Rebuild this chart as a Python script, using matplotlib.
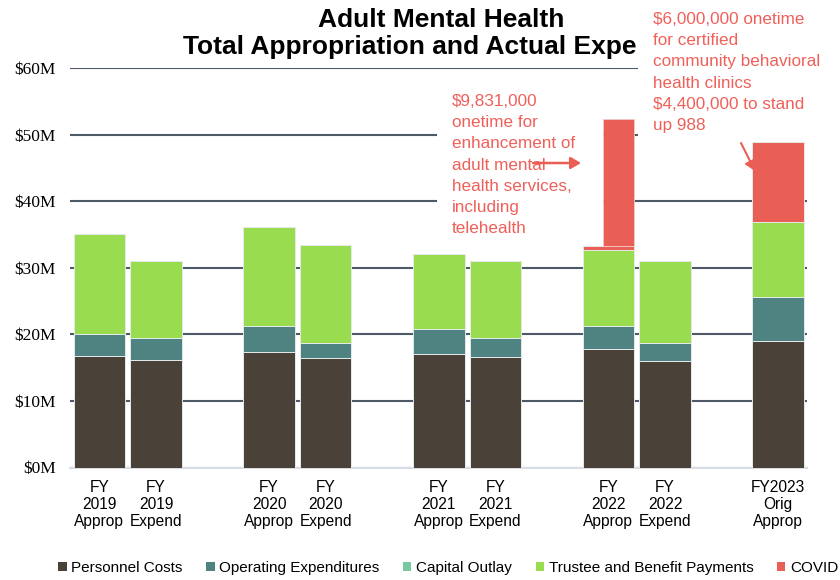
import matplotlib
matplotlib.use("Agg")
import matplotlib.pyplot as plt
from matplotlib.patches import Rectangle, FancyArrowPatch

categories = ["FY\n2019\nApprop", "FY\n2019\nExpend", "FY\n2020\nApprop", "FY\n2020\nExpend",
              "FY\n2021\nApprop", "FY\n2021\nExpend", "FY\n2022\nApprop", "FY\n2022\nExpend",
              "FY2023\nOrig\nApprop"]
personnel = [16.8, 16.2, 17.35, 16.4, 17.1, 16.6, 17.75, 15.95, 18.95]
operating = [3.25, 3.2, 3.85, 2.35, 3.65, 2.8, 3.55, 2.8, 6.65]
capital = [0, 0, 0, 0, 0, 0, 0, 0, 0]
trustee = [14.95, 11.65, 14.9, 14.65, 11.25, 11.65, 11.3, 12.25, 11.2]
covid = [0, 0, 0, 0, 0, 0, 0.6, 0, 12.1]
covid_onetime = [0, 0, 0, 0, 0, 0, 19.1, 0, 0]
yticks = [0, 10, 20, 30, 40, 50, 60]
ytick_labels = ["$0M", "$10M", "$20M", "$30M", "$40M", "$50M", "$60M"]
series_names = ["Personnel Costs", "Operating Expenditures", "Capital Outlay",
                "Trustee and Benefit Payments", "COVID"]
colors = ["#4A4239", "#4F8382", "#77C9A0", "#9ADC50", "#EA5F55"]

note1 = "$9,831,000\nonetime for\nenhancement of\nadult mental\nhealth services,\nincluding\ntelehealth"
note2 = ("$6,000,000 onetime\nfor certified\ncommunity behavioral\nhealth clinics\n"
         "$4,400,000 to stand\nup 988")

W, H = 840, 580
def fx(px): return px / W
def fy(py): return 1 - py / H

fig = plt.figure(figsize=(8.4, 5.8), dpi=100)
ax = fig.add_axes([fx(70), fy(467.5), fx(807) - fx(70), fy(68) - fy(467.5)])

positions = [0, 1, 3, 4, 6, 7, 9, 10, 12]
width = 0.91
bottom = [0.0] * len(positions)
series = [personnel, operating, capital, trustee, covid]
for vals, name, c in zip(series, series_names, colors):
    edges = ["#e4eaea" if v > 0 else "none" for v in vals]
    ax.bar(positions, vals, width=width, bottom=bottom, color=c, label=name,
           edgecolor=edges, linewidth=0.7, zorder=3)
    bottom = [b + v for b, v in zip(bottom, vals)]

# narrower one-time COVID column drawn on the right part of the bar
ow = 0.55
opos = [p + width / 2 - ow / 2 for p in positions]
oedges = ["#f3c9c6" if v > 0 else "none" for v in covid_onetime]
ax.bar(opos, covid_onetime, width=ow, bottom=bottom, color=colors[4],
       edgecolor=oedges, linewidth=0.6, zorder=3)

ax.set_xlim(-0.52, 12.51)
ax.set_ylim(0, 60)
ax.set_yticks(yticks)
ax.set_yticklabels(ytick_labels, fontfamily="Liberation Serif", fontsize=12.5)
ax.set_xticks(positions)
ax.set_xticklabels(categories, fontfamily="Liberation Sans", fontsize=11.2, linespacing=1.15)
ax.tick_params(axis="y", length=0, pad=10)
ax.tick_params(axis="x", length=0, pad=9)
for s in ["left", "right", "top"]:
    ax.spines[s].set_visible(False)
ax.spines["bottom"].set_color("#D9DEE4")
ax.spines["bottom"].set_linewidth(1.5)
ax.yaxis.grid(True, color="#4D5966", linewidth=1.5, zorder=0)
ax.set_axisbelow(True)

# title
ax.text(fx(441), fy(20), "Adult Mental Health", transform=fig.transFigure,
        ha="center", va="center", fontsize=19, fontweight="bold",
        fontfamily="Liberation Sans", zorder=4, clip_on=False)
ax.text(fx(183), fy(47), "Total Appropriation and Actual Expenditures", transform=fig.transFigure,
        ha="left", va="center", fontsize=19, fontweight="bold",
        fontfamily="Liberation Sans", zorder=4, clip_on=False)

# white background boxes for notes
ax.add_patch(Rectangle((fx(437), fy(245)), fx(603) - fx(437), fy(85) - fy(245),
                       transform=fig.transFigure, facecolor="white", edgecolor="none",
                       zorder=2, clip_on=False))
ax.add_patch(Rectangle((fx(638), fy(139)), fx(845) - fx(638), fy(0) - fy(139),
                       transform=fig.transFigure, facecolor="white", edgecolor="none",
                       zorder=5, clip_on=False))

note_color = "#F0605A"
ax.text(fx(452), fy(94), note1, transform=fig.transFigure, ha="left", va="top",
        fontsize=12.3, color=note_color, fontfamily="Liberation Sans",
        linespacing=1.52, zorder=6, clip_on=False)
ax.text(fx(653), fy(12), note2, transform=fig.transFigure, ha="left", va="top",
        fontsize=12.3, color=note_color, fontfamily="Liberation Sans",
        linespacing=1.52, zorder=6, clip_on=False)

arrow_color = "#EA5F55"
a1 = FancyArrowPatch((fx(533), fy(163)), (fx(581), fy(163)), transform=fig.transFigure,
                     arrowstyle="-|>,head_length=6,head_width=3.5", color=arrow_color,
                     linewidth=1.8, zorder=7, clip_on=False, shrinkA=0, shrinkB=0)
ax.add_patch(a1)
a2 = FancyArrowPatch((fx(741), fy(143)), (fx(755), fy(171)), transform=fig.transFigure,
                     arrowstyle="-|>,head_length=6,head_width=3.5", color=arrow_color,
                     linewidth=1.5, zorder=7, clip_on=False, shrinkA=0, shrinkB=0)
ax.add_patch(a2)

leg = fig.legend(*ax.get_legend_handles_labels(), loc="center left",
                 bbox_to_anchor=(fx(52), fy(568)), ncol=5, frameon=False,
                 prop={"family": "Liberation Sans", "size": 11},
                 handlelength=0.55, handleheight=0.55, handletextpad=0.3,
                 columnspacing=1.55, borderaxespad=0)
for h in leg.legend_handles:
    h.set_edgecolor("none")

fig.savefig("out.png", dpi=100)
